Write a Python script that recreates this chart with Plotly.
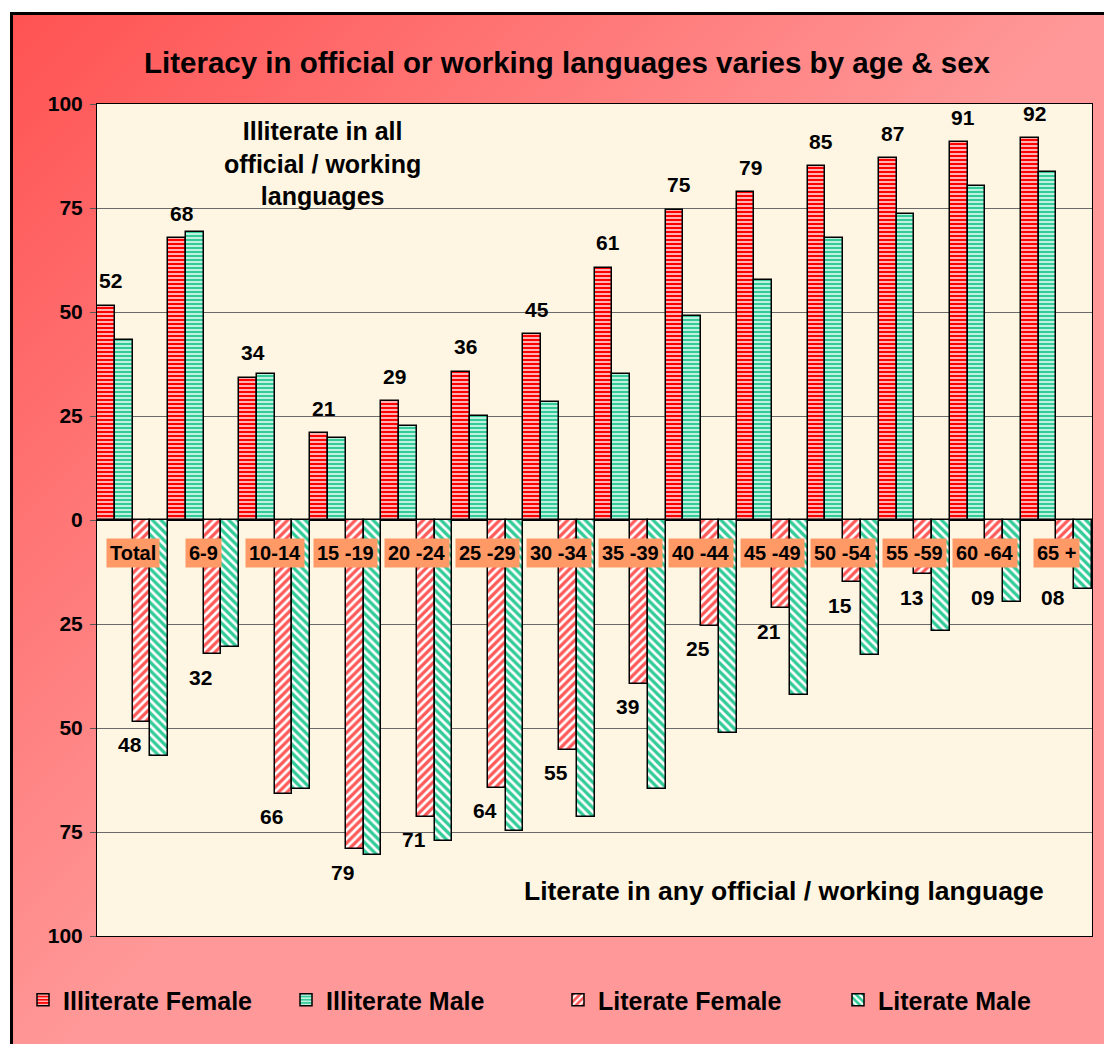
import base64

import plotly.graph_objects as go

# ---- data -------------------------------------------------------------
age_groups = ["Total", "6-9", "10-14", "15 -19", "20 -24", "25 -29", "30 -34",
              "35 -39", "40 -44", "45 -49", "50 -54", "55 -59", "60 -64", "65 +"]

illiterate_female = [51.5, 67.7, 34.2, 20.8, 28.5, 35.6, 44.7,
                     60.6, 74.6, 78.8, 85.0, 87.0, 90.8, 91.8]
illiterate_male = [43.3, 69.2, 35.1, 19.7, 22.6, 25.0, 28.4,
                   35.1, 49.0, 57.7, 67.8, 73.6, 80.3, 83.7]
literate_female = [48.5, 32.3, 65.8, 79.2, 71.3, 64.4, 55.2,
                   39.4, 25.4, 21.2, 15.0, 13.0, 9.2, 8.2]
literate_male = [56.8, 30.6, 64.6, 80.6, 77.2, 74.8, 71.4,
                 64.6, 51.2, 42.1, 32.5, 26.7, 19.7, 16.6]

illiterate_female_labels = ["52", "68", "34", "21", "29", "36", "45",
                            "61", "75", "79", "85", "87", "91", "92"]
literate_female_labels = ["48", "32", "66", "79", "71", "64", "55",
                          "39", "25", "21", "15", "13", "09", "08"]

y_ticks = [-100, -75, -50, -25, 0, 25, 50, 75, 100]
y_tick_labels = ["100", "75", "50", "25", "0", "25", "50", "75", "100"]

# ---- geometry (the page body adds an 8px offset) -----------------------
W, H = 1104, 1036
ML, MR, MT, MB = 89, 20, 96, 108
PW, PH = W - ML - MR, H - MT - MB

FONT = "Arial, Liberation Sans, sans-serif"
RED = "#FF0000"
TEAL = "#33CC99"
CREAM = "#FEF6E2"

# background: red gradient card with black frame, cream plot area
svg = f"""<svg xmlns='http://www.w3.org/2000/svg' width='{W}' height='{H}' viewBox='0 0 {W} {H}'>
<defs><linearGradient id='g' gradientUnits='userSpaceOnUse' x1='2' y1='4' x2='552' y2='552'>
<stop offset='0' stop-color='#FF5252'/><stop offset='1' stop-color='#FF9999'/></linearGradient></defs>
<rect x='0' y='0' width='{W}' height='{H}' fill='white'/>
<rect x='3.5' y='5.5' width='{W + 20}' height='{H + 20}' fill='url(#g)' stroke='black' stroke-width='3'/>
<rect x='{ML}' y='{MT}' width='{PW}' height='{PH}' fill='{CREAM}'/>
</svg>"""
bg_src = "data:image/svg+xml;base64," + base64.b64encode(svg.encode()).decode()


def bar(name, values, color, shape, legend):
    return go.Bar(
        name=name,
        x=age_groups,
        y=values,
        legend=legend,
        marker=dict(
            color=color,
            line=dict(color="black", width=1.5),
            pattern=dict(shape=shape, bgcolor=color, fgcolor="white",
                         size=4 if shape == "-" else 6,
                         solidity=0.35 if shape == "-" else 0.45,
                         fillmode="replace"),
        ),
    )


fig = go.Figure()
fig.add_trace(bar("Illiterate Female", illiterate_female, RED, "-", "legend"))
fig.add_trace(bar("Illiterate Male", illiterate_male, TEAL, "-", "legend2"))
fig.add_trace(bar("Literate Female", [-v for v in literate_female], "#FF5A5A", "/",
                  "legend3"))
fig.add_trace(bar("Literate Male", [-v for v in literate_male], TEAL, "\\", "legend4"))

label_font = dict(family=FONT, size=21, color="black", weight="bold")

# value labels for the female series
for g, v, t in zip(age_groups, illiterate_female, illiterate_female_labels):
    fig.add_annotation(x=g, y=v, xref="x", yref="y", text=t, showarrow=False,
                       xanchor="center", yanchor="middle", xshift=-22, yshift=25,
                       font=label_font)
for g, v, t in zip(age_groups, literate_female, literate_female_labels):
    fig.add_annotation(x=g, y=-max(v, 13), xref="x", yref="y", text=t, showarrow=False,
                       xanchor="center", yanchor="middle", xshift=-3, yshift=-23,
                       font=label_font)

# category labels on orange tags along the zero line
for g in age_groups:
    fig.add_annotation(x=g, y=-8, xref="x", yref="y", text=g, showarrow=False,
                       xanchor="center", yanchor="middle",
                       bgcolor="#FF9966", borderpad=3,
                       font=dict(family=FONT, size=20, color="black", weight="bold"))

fig.add_annotation(x=(322 - 97) / PW, y=1 - (163 - 104) / PH, xref="paper", yref="paper",
                   xanchor="center", yanchor="middle",
                   text="Illiterate in all<br>official / working<br>languages",
                   showarrow=False, align="center",
                   font=dict(family=FONT, size=25, color="black", weight="bold"))
fig.add_annotation(x=(784 - 97) / PW, y=1 - (891 - 104) / PH, xref="paper", yref="paper",
                   xanchor="center", yanchor="middle",
                   text="Literate in any official / working language",
                   showarrow=False,
                   font=dict(family=FONT, size=26.5, color="black", weight="bold"))


def legend_at(fx):
    return dict(orientation="h", x=(fx - ML) / PW, xanchor="left",
                y=1 - (992 - MT) / PH, yanchor="middle",
                bgcolor="rgba(0,0,0,0)",
                font=dict(family=FONT, size=25, color="black", weight="bold"))


fig.update_layout(
    width=W, height=H,
    margin=dict(l=ML, r=MR, t=MT, b=MB),
    paper_bgcolor="white",
    plot_bgcolor=CREAM,
    barmode="group", bargap=0, bargroupgap=0,
    font=dict(family=FONT, color="black", weight="bold"),
    title=dict(text="Literacy in official or working languages varies by age & sex",
               x=559 / W, xanchor="center", y=1 - 55 / H, yanchor="middle",
               font=dict(family=FONT, size=29.5, color="black", weight="bold")),
    showlegend=True,
    legend=legend_at(15),
    legend2=legend_at(278),
    legend3=legend_at(550),
    legend4=legend_at(830),
    images=[dict(source=bg_src, xref="paper", yref="paper",
                 x=-ML / PW, y=1 + MT / PH, sizex=W / PW, sizey=H / PH,
                 xanchor="left", yanchor="top", sizing="stretch", layer="below")],
)

fig.update_xaxes(showticklabels=False, ticks="", showgrid=False, zeroline=False,
                 showline=True, linecolor="black", linewidth=1, mirror=True,
                 fixedrange=True)
fig.update_yaxes(range=[-100, 100], tickvals=y_ticks, ticktext=y_tick_labels,
                 ticks="outside", ticklen=6, tickcolor="#555555", ticklabelstandoff=3,
                 tickfont=dict(family=FONT, size=21, color="black", weight="bold"),
                 showgrid=True, gridcolor="#6A6A6A", gridwidth=1,
                 zeroline=True, zerolinecolor="black", zerolinewidth=2,
                 showline=True, linecolor="black", linewidth=1, mirror=True,
                 fixedrange=True)

fig.write_html("out.html")
